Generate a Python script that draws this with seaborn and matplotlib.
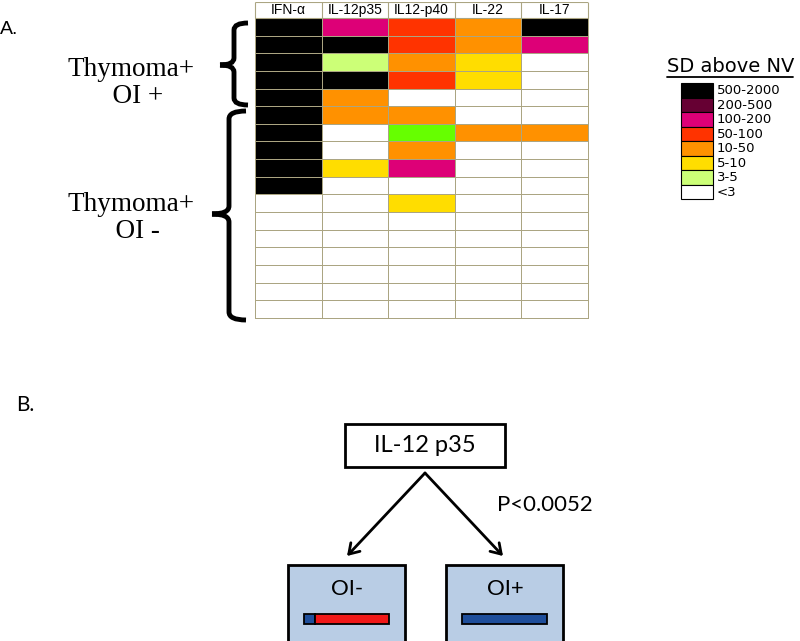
import numpy as np
import pandas as pd
import matplotlib
matplotlib.use("Agg")
import matplotlib.pyplot as plt
from matplotlib.colors import ListedColormap
from matplotlib.patches import Rectangle, PathPatch
from matplotlib.path import Path
import seaborn as sns

# cytokine columns and SD-above-NV level per patient (row), codes index into level_colors
cytokines = ["IFN-α", "IL-12p35", "IL12-p40", "IL-22", "IL-17"]
ifn_a    = [7, 7, 7, 7, 7, 7, 7, 7, 7, 7, 0, 0, 0, 0, 0, 0, 0]
il12p35  = [5, 7, 1, 7, 3, 3, 0, 0, 2, 0, 0, 0, 0, 0, 0, 0, 0]
il12p40  = [4, 4, 3, 4, 0, 3, 8, 3, 5, 0, 2, 0, 0, 0, 0, 0, 0]
il22     = [3, 3, 2, 2, 0, 0, 3, 0, 0, 0, 0, 0, 0, 0, 0, 0, 0]
il17     = [7, 5, 0, 0, 0, 0, 3, 0, 0, 0, 0, 0, 0, 0, 0, 0, 0]

# 0..7 are the legend levels, 8 is the bright green cell seen in the table
level_labels = ["<3", "3-5", "5-10", "10-50", "50-100", "100-200", "200-500", "500-2000"]
level_colors = ["#FFFFFF", "#CCFF77", "#FFDD00", "#FF9100", "#FF3300",
                "#DD0077", "#660033", "#000000", "#66FF00"]

# panel B: fraction of patients with high IL-12 p35 in each group
groups = ["OI-", "OI+"]
frac_high = [0.13, 1.0]
p_text = "P<0.0052"

sns.set_style("white")
plt.rcParams["font.family"] = ["DejaVu Sans"]
plt.rcParams["text.color"] = "black"

fig = plt.figure(figsize=(8, 6.41), dpi=100)

# overlay in pixel coordinates for labels and the diagram
ov = fig.add_axes([0, 0, 1, 1])
ov.set_xlim(0, 800)
ov.set_ylim(641, 0)
ov.axis("off")

# ---- panel A: heatmap table ----
df = pd.DataFrame({c: v for c, v in zip(cytokines, [ifn_a, il12p35, il12p40, il22, il17])})
ax = fig.add_axes([255 / 800, 1 - 318 / 641, 333 / 800, 316 / 641])
grid = "#ABA582"
sns.heatmap(df, cmap=ListedColormap(level_colors), vmin=-0.5, vmax=8.5, cbar=False,
            linewidths=0.5, linecolor=grid, xticklabels=False, yticklabels=False, ax=ax)
ax.collections[0].set_clip_on(False)
ax.set_ylim(len(df), -0.9)
ax.hlines([-0.9, 0], 0, len(cytokines), color=grid, lw=0.8)
ax.vlines(range(len(cytokines) + 1), -0.9, 0, color=grid, lw=0.8, clip_on=False)
for i, c in enumerate(cytokines):
    ax.text(i + 0.5, -0.45, c, ha="center", va="center", fontsize=10,
            family=["Liberation Sans", "DejaVu Sans"])
ax.axis("off")


def brace(x_end, x_mid, x_tip, y_top, y_bot, y_tip, r):
    verts = [(x_end, y_top), (x_mid, y_top), (x_mid, y_top + r),
             (x_mid, y_tip - r), (x_mid, y_tip), (x_tip, y_tip),
             (x_tip, y_tip), (x_mid, y_tip), (x_mid, y_tip + r),
             (x_mid, y_bot - r), (x_mid, y_bot), (x_end, y_bot)]
    codes = [Path.MOVETO, Path.CURVE3, Path.CURVE3, Path.LINETO, Path.CURVE3, Path.CURVE3,
             Path.MOVETO, Path.CURVE3, Path.CURVE3, Path.LINETO, Path.CURVE3, Path.CURVE3]
    ov.add_patch(PathPatch(Path(verts, codes), fill=False, edgecolor="black",
                           lw=3.5, capstyle="butt"))


brace(248, 234, 220, 23, 105, 65, 7)
brace(246, 229, 212, 111, 320, 214, 8)

ov.text(0, 30, "A.", fontsize=14, va="center", ha="left",
        family=["Liberation Sans", "DejaVu Sans"])
serif = ["Liberation Serif", "DejaVu Serif"]
ov.text(131, 83, "Thymoma+\n  OI +", ha="center", va="center", fontsize=19.5,
        family=serif, linespacing=1.15)
ov.text(131, 218, "Thymoma+\n  OI -", ha="center", va="center", fontsize=19.5,
        family=serif, linespacing=1.15)

# legend
ov.text(667, 67, "SD above NV", fontsize=14, va="center", ha="left")
ov.plot([667, 793], [77, 77], color="black", lw=1.3)
box_h = 14.5
for k, lev in enumerate(range(7, -1, -1)):
    y0 = 83 + k * box_h
    ov.add_patch(Rectangle((681, y0), 32, box_h, facecolor=level_colors[lev],
                           edgecolor="black", lw=0.8))
    ov.text(717, y0 + box_h / 2 + 0.5, level_labels[lev], fontsize=9.5, va="center", ha="left")

# ---- panel B: diagram ----
sans = ["Lato", "DejaVu Sans"]
ov.text(16, 405, "B.", fontsize=15, va="center", ha="left", family=sans)
ov.add_patch(Rectangle((345, 424), 160, 43, facecolor="white", edgecolor="black", lw=2))
ov.text(425, 446, "IL-12 p35", fontsize=17, ha="center", va="center", family=sans)
for xt in [347, 503]:
    ov.annotate("", xy=(xt, 556), xytext=(425, 473),
                arrowprops=dict(arrowstyle="->,head_length=0.7,head_width=0.45",
                                lw=2, color="black", shrinkA=0, shrinkB=0))
ov.text(545, 505, p_text, fontsize=16, ha="center", va="center", family=sans)

bar_len = 85
for j, (g, f) in enumerate(zip(groups, frac_high)):
    bx = 288 + j * 158
    ov.add_patch(Rectangle((bx, 565), 117, 90, facecolor="#B9CDE5", edgecolor="black",
                           lw=2, clip_on=False))
    ov.text(bx + 59, 589, g, fontsize=16, ha="center", va="center", family=sans)
    left = bx + 16
    ov.barh(619, f * bar_len, left=left, height=10, color="#1F4E9A", edgecolor="black", lw=1.3)
    if f < 1:
        ov.barh(619, (1 - f) * bar_len, left=left + f * bar_len, height=10,
                color="#F01818", edgecolor="black", lw=1.3)

fig.savefig("out.png", dpi=100)
